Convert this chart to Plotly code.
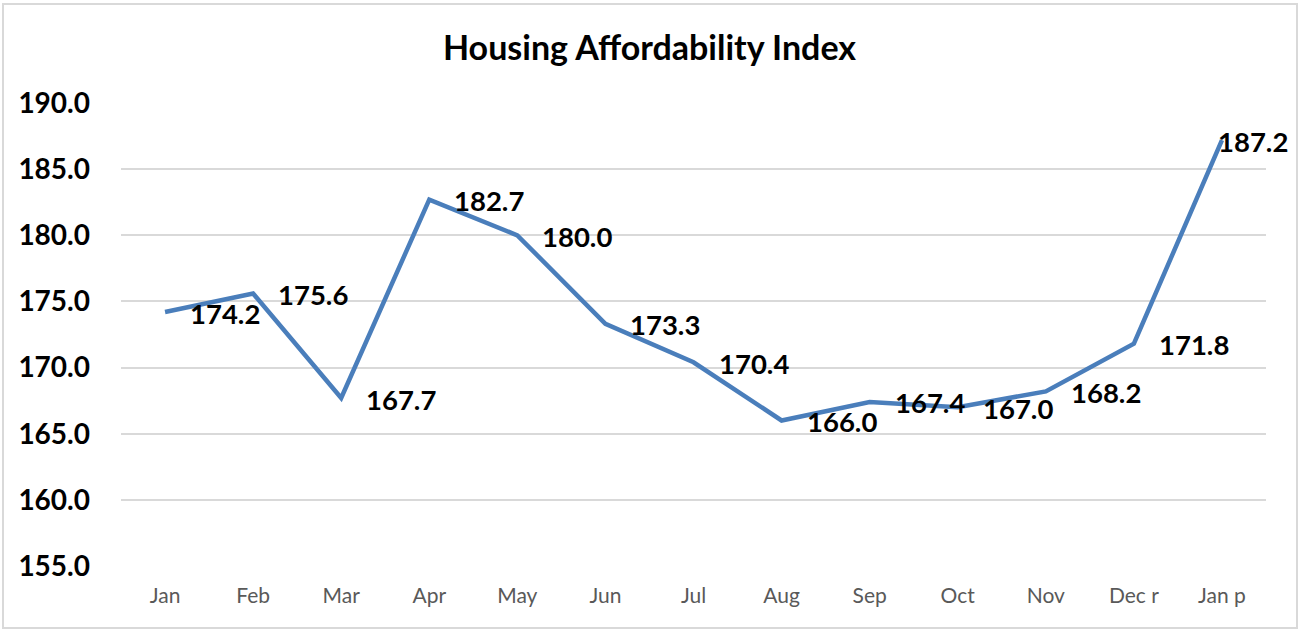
import plotly.graph_objects as go

categories = ["Jan", "Feb", "Mar", "Apr", "May", "Jun", "Jul", "Aug", "Sep", "Oct", "Nov", "Dec r", "Jan p"]
values = [174.2, 175.6, 167.7, 182.7, 180.0, 173.3, 170.4, 166.0, 167.4, 167.0, 168.2, 171.8, 187.2]
y_ticks = [155, 160, 165, 170, 175, 180, 185, 190]

W, H = 1300, 632
L, R, T, B = 121, 34, 103, 66
pw, ph = W - L - R, H - T - B

fig = go.Figure()
fig.add_trace(go.Scatter(
    x=list(range(len(categories))), y=values, mode="lines",
    line=dict(color="#4a7ebb", width=4.5), hoverinfo="skip", showlegend=False,
))

for i, v in enumerate(values):
    last = i == len(values) - 1
    fig.add_annotation(
        x=i, y=v, xref="x", yref="y", text=f"{v:.1f}", showarrow=False,
        xanchor="left", yanchor="middle",
        xshift=-6 if last else 23, yshift=-1,
        font=dict(family="Lato", size=27.5, color="#000000", weight="bold"),
    )

def px(xp):
    return (xp - L) / pw

def py(yp):
    return (H - B - yp) / ph

fig.add_shape(type="rect", xref="paper", yref="paper",
              x0=px(3), x1=px(1297), y0=py(628), y1=py(4),
              line=dict(color="#d9d9d9", width=2), fillcolor="rgba(0,0,0,0)", layer="below")

fig.update_layout(
    width=W, height=H,
    margin=dict(l=L, r=R, t=T, b=B),
    paper_bgcolor="white", plot_bgcolor="white",
    title=dict(text="<b>Housing Affordability Index</b>", x=(441 + 858) / 2 / W, xanchor="center",
               y=1 - 48 / H, yanchor="middle",
               font=dict(family="Lato", size=34, color="#000000")),
    xaxis=dict(
        tickmode="array", tickvals=list(range(len(categories))), ticktext=categories,
        range=[-0.5, len(categories) - 0.5], showgrid=False, zeroline=False,
        showline=False, ticks="", tickfont=dict(family="Lato", size=21, color="#595959"),
        ticklabelstandoff=15,
    ),
    yaxis=dict(
        range=[155, 190], tickmode="array", tickvals=y_ticks,
        ticktext=[f"{t:.1f}" for t in y_ticks],
        showgrid=True, gridcolor="#d9d9d9", gridwidth=1.5, zeroline=False,
        showline=False, ticks="",
        tickfont=dict(family="Lato", size=28, color="#000000", weight="bold"),
        ticklabelstandoff=30,
    ),
)

fig.write_html("out.html", config={"displayModeBar": False},
               post_script="document.body.style.margin='0';document.body.style.overflow='hidden';")
